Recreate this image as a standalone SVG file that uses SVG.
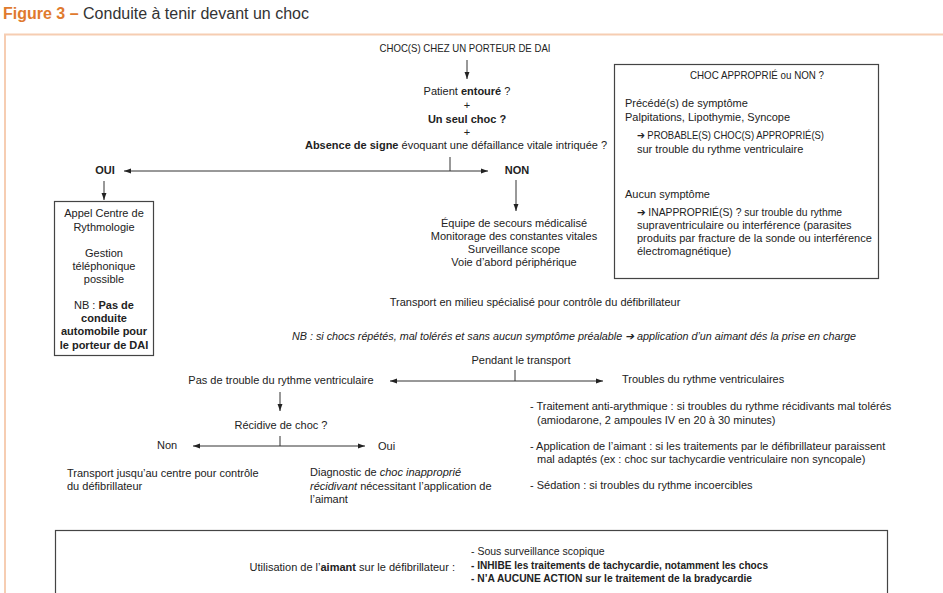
<svg xmlns="http://www.w3.org/2000/svg" width="943" height="593" viewBox="0 0 943 593">
<style>
text{font-family:"Liberation Sans",Arial,sans-serif;font-size:11px;fill:#222}
.c{text-anchor:middle}
.b{font-weight:bold}
.i{font-style:italic}
.ln{stroke:#333;stroke-width:1;fill:none}
.box{fill:#fff;stroke:#444;stroke-width:1.2}
.n{font-size:10.5px}
</style>
<defs>
<marker id="ah" viewBox="0 0 10 10" refX="10" refY="5" markerWidth="7" markerHeight="7" orient="auto-start-reverse" markerUnits="userSpaceOnUse">
<path d="M0,1.5 L10,5 L0,8.5 Z" fill="#222"/>
</marker>
</defs>
<rect width="943" height="593" fill="#fff"/>
<g id="title">
<text x="3" y="19" style="font-size:16px"><tspan style="fill:#e07a2e;font-weight:bold">Figure 3 –</tspan><tspan style="fill:#333"> Conduite à tenir devant un choc</tspan></text>
</g>
<path d="M5,593 V34.5 H943" stroke="#f6cdb2" stroke-width="2" fill="none"/>

<g id="connectors">
<line class="ln" x1="467" y1="60" x2="467" y2="79" marker-end="url(#ah)"/>
<line class="ln" x1="450" y1="157" x2="450" y2="171"/>
<line class="ln" x1="124" y1="171" x2="488" y2="171" marker-start="url(#ah)" marker-end="url(#ah)"/>
<line class="ln" x1="104" y1="181" x2="104" y2="200" marker-end="url(#ah)"/>
<line class="ln" x1="516" y1="180" x2="516" y2="211" marker-end="url(#ah)"/>
<line class="ln" x1="515" y1="370" x2="515" y2="381"/>
<line class="ln" x1="390" y1="381" x2="603" y2="381" marker-start="url(#ah)" marker-end="url(#ah)"/>
<line class="ln" x1="280" y1="392" x2="280" y2="411" marker-end="url(#ah)"/>
<line class="ln" x1="280" y1="436" x2="280" y2="446"/>
<line class="ln" x1="193" y1="446" x2="365" y2="446" marker-start="url(#ah)" marker-end="url(#ah)"/>
</g>

<g id="start"><text class="c" x="465" y="52" textLength="171" lengthAdjust="spacingAndGlyphs">CHOC(S) CHEZ UN PORTEUR DE DAI</text></g>
<g id="question">
<text class="c" x="467" y="95">Patient <tspan class="b">entouré</tspan> ?</text>
<text class="c" x="467" y="109">+</text>
<text class="c b" x="467" y="123">Un seul choc ?</text>
<text class="c" x="467" y="136">+</text>
<text class="c" x="456" y="149"><tspan class="b">Absence de signe</tspan> évoquant une défaillance vitale intriquée ?</text>
</g>
<g id="oui"><text class="c b" x="105" y="174">OUI</text></g>
<g id="non"><text class="c b" x="517" y="174">NON</text></g>

<g id="appel">
<rect class="box" x="54.5" y="201.5" width="99" height="154"/>
<text class="c" x="104" y="217">Appel Centre de</text>
<text class="c" x="104" y="231">Rythmologie</text>
<text class="c" x="104" y="257">Gestion</text>
<text class="c" x="104" y="270">téléphonique</text>
<text class="c" x="104" y="283">possible</text>
<text class="c" x="104" y="309">NB : <tspan class="b">Pas de</tspan></text>
<text class="c b" x="104" y="322">conduite</text>
<text class="c b" x="104" y="335">automobile pour</text>
<text class="c b" x="104" y="349">le porteur de DAI</text>
</g>

<g id="secours">
<text class="c" x="514" y="227">Équipe de secours médicalisé</text>
<text class="c" x="514" y="240">Monitorage des constantes vitales</text>
<text class="c" x="514" y="253">Surveillance scope</text>
<text class="c" x="514" y="266">Voie d’abord périphérique</text>
</g>

<g id="approprie">
<rect class="box" x="614.5" y="64.5" width="264" height="214"/>
<text class="c" x="757" y="79" textLength="134" lengthAdjust="spacingAndGlyphs">CHOC APPROPRIÉ ou NON ?</text>
<text x="625" y="107">Précédé(s) de symptôme</text>
<text x="625" y="121">Palpitations, Lipothymie, Syncope</text>
<text x="637" y="139" textLength="187" lengthAdjust="spacingAndGlyphs">➔ PROBABLE(S) CHOC(S) APPROPRIÉ(S)</text>
<text x="637" y="153">sur trouble du rythme ventriculaire</text>
<text x="625" y="198">Aucun symptôme</text>
<text x="637" y="216" textLength="205" lengthAdjust="spacingAndGlyphs">➔ INAPPROPRIÉ(S) ? sur trouble du rythme</text>
<text x="637" y="229">supraventriculaire ou interférence (parasites</text>
<text x="637" y="242">produits par fracture de la sonde ou interférence</text>
<text x="637" y="255">électromagnétique)</text>
</g>

<g id="transport"><text class="c" x="535" y="306">Transport en milieu spécialisé pour contrôle du défibrillateur</text></g>
<g id="nb"><text class="i" x="292" y="340" textLength="564" lengthAdjust="spacingAndGlyphs">NB : si chocs répétés, mal tolérés et sans aucun symptôme préalable ➔ application d’un aimant dés la prise en charge</text></g>
<g id="pendant"><text class="c" x="521" y="364">Pendant le transport</text></g>
<g id="pastrouble"><text class="c" x="281" y="384">Pas de trouble du rythme ventriculaire</text></g>
<g id="troubles"><text x="622" y="383">Troubles du rythme ventriculaires</text></g>
<g id="recidive"><text class="c" x="281" y="429">Récidive de choc ?</text></g>
<g id="nonr"><text x="157" y="449">Non</text></g>
<g id="ouir"><text x="378" y="450">Oui</text></g>
<g id="transport2">
<text x="67" y="477">Transport jusqu’au centre pour contrôle</text>
<text x="67" y="490">du défibrillateur</text>
</g>
<g id="diagnostic">
<text x="310" y="476">Diagnostic de <tspan class="i">choc inapproprié</tspan></text>
<text x="310" y="490"><tspan class="i">récidivant</tspan> nécessitant l’application de</text>
<text x="310" y="503">l’aimant</text>
</g>
<g id="traitements">
<text x="530" y="410">- Traitement anti-arythmique : si troubles du rythme récidivants mal tolérés</text>
<text x="537" y="424">(amiodarone, 2 ampoules IV en 20 à 30 minutes)</text>
<text x="530" y="450">- Application de l’aimant : si les traitements par le défibrillateur paraissent</text>
<text x="537" y="463">mal adaptés (ex : choc sur tachycardie ventriculaire non syncopale)</text>
<text x="530" y="489">- Sédation : si troubles du rythme incoercibles</text>
</g>
<g id="aimant">
<rect class="box" x="55.5" y="530.5" width="832" height="80"/>
<text x="455" y="571" text-anchor="end">Utilisation de l’<tspan class="b">aimant</tspan> sur le défibrillateur :</text>
<text class="n" x="471" y="555">- Sous surveillance scopique</text>
<text class="n b" x="471" y="569" textLength="297" lengthAdjust="spacingAndGlyphs">- INHIBE les traitements de tachycardie, notamment les chocs</text>
<text class="n b" x="471" y="582" textLength="281" lengthAdjust="spacingAndGlyphs">- N’A AUCUNE ACTION sur le traitement de la bradycardie</text>
</g>
</svg>
